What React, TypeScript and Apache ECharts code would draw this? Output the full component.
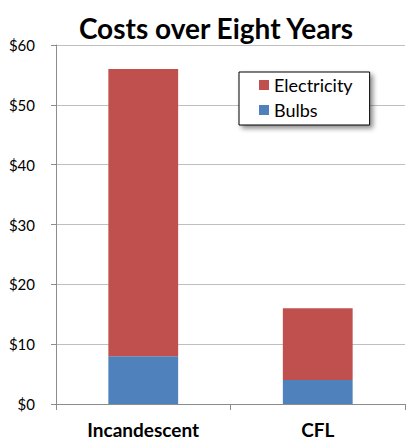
import React, { useEffect, useRef } from "react";
import * as echarts from "echarts";

const categories = ["Incandescent", "CFL"];
const bulbs = [8, 4];
const electricity = [48, 12];
const yTicks = { min: 0, max: 60, interval: 10 };

const FONT = "Lato, 'Open Sans', sans-serif";

export default function App() {
  const ref = useRef<HTMLDivElement>(null);

  useEffect(() => {
    if (!ref.current) return;
    const chart = echarts.init(ref.current, undefined, { renderer: "svg" });
    chart.setOption({
      animation: false,
      backgroundColor: "#ffffff",
      textStyle: { fontFamily: FONT },
      title: {
        text: "Costs over Eight Years",
        left: 211,
        top: 9,
        textAlign: "center",
        textStyle: { fontFamily: FONT, fontWeight: "bold", fontSize: 28, color: "#000" },
      },
      legend: {
        data: ["Electricity", "Bulbs"],
        orient: "vertical",
        left: 239,
        top: 72,
        padding: [4, 17, 6, 20],
        itemGap: 7,
        itemWidth: 10,
        itemHeight: 10,
        icon: "rect",
        backgroundColor: "#ffffff",
        borderColor: "#000000",
        borderWidth: 1,
        borderRadius: 0,
        shadowColor: "rgba(0,0,0,0.45)",
        shadowBlur: 5,
        shadowOffsetX: 3,
        shadowOffsetY: 3,
        textStyle: { fontFamily: FONT, fontSize: 18, color: "#000", lineHeight: 18 },
      },
      grid: { left: 56, right: 6, top: 45, bottom: 39, containLabel: false },
      xAxis: {
        type: "category",
        data: categories,
        axisLine: { show: true, lineStyle: { color: "#8c8c8c" } },
        axisTick: { show: true, alignWithLabel: false, length: 6, lineStyle: { color: "#8c8c8c" } },
        axisLabel: { fontFamily: FONT, fontWeight: "bold", fontSize: 19, color: "#000", margin: 16 },
      },
      yAxis: {
        type: "value",
        min: yTicks.min,
        max: yTicks.max,
        interval: yTicks.interval,
        axisLine: { show: true, lineStyle: { color: "#8c8c8c" } },
        axisTick: { show: true, length: 5, lineStyle: { color: "#8c8c8c" } },
        splitLine: { show: true, lineStyle: { color: "#bfbfbf" } },
        axisLabel: {
          fontFamily: FONT,
          fontSize: 15,
          color: "#000",
          margin: 21,
          formatter: (v: number) => "$" + v,
        },
      },
      series: [
        {
          name: "Bulbs",
          type: "bar",
          stack: "cost",
          data: bulbs,
          barWidth: "40%",
          itemStyle: { color: "#4f81bd" },
        },
        {
          name: "Electricity",
          type: "bar",
          stack: "cost",
          data: electricity,
          barWidth: "40%",
          itemStyle: { color: "#c0504d" },
        },
      ],
    });
    return () => chart.dispose();
  }, []);

  return (
    <div
      ref={ref}
      style={{ position: "absolute", left: 0, top: 0, width: 411, height: 443 }}
    />
  );
}
